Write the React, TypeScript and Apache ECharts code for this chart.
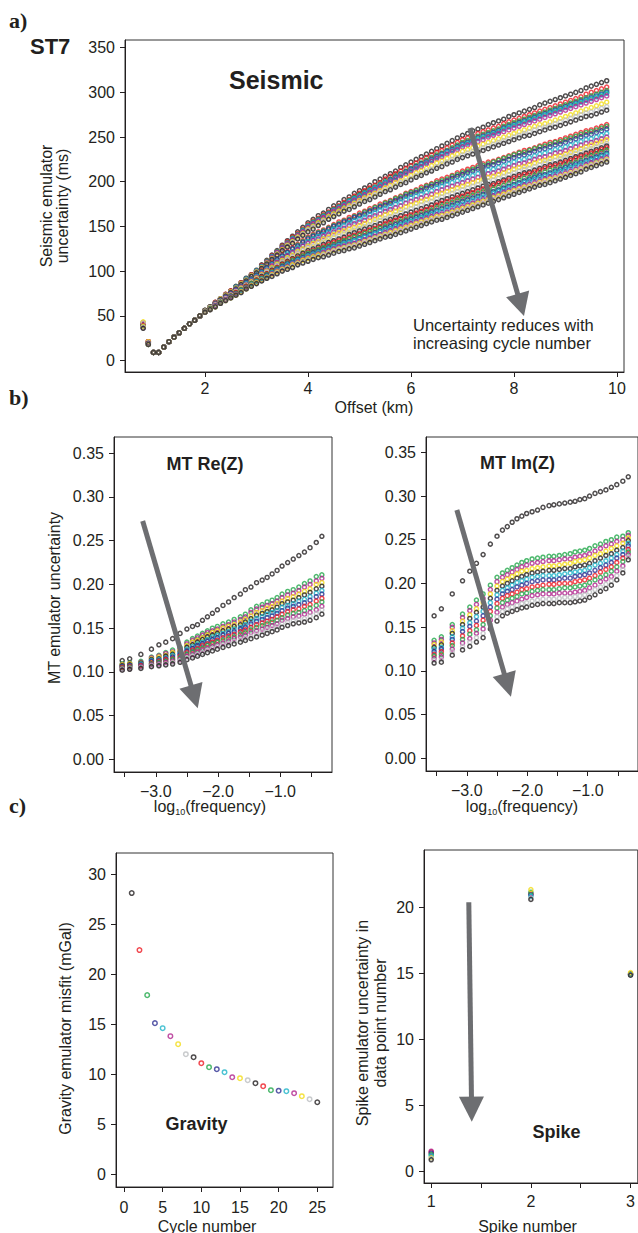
import React, { useEffect, useRef } from "react";
import * as echarts from "echarts";

// ---------- palette (R default palette order, printed tones) ----------
const PALETTE = ["#231f20", "#ed1c24", "#22a84a", "#2e3192", "#1fb4c8", "#b2268f", "#f2dc16", "#bcbec0"];
const INK = "#231f20";
const ARROW_GREY = "#6d6e71";
const FONT = "Liberation Sans, Arial, Helvetica, sans-serif";
const SERIF = "Liberation Serif, Times New Roman, serif";

// ---------- a) Seismic ----------
const OFFSET_KM = [0.8,0.9,1,1.1,1.2,1.3,1.4,1.5,1.6,1.7,1.8,1.9,2,2.1,2.2,2.3,2.4,2.5,2.6,2.7,2.8,2.9,3,3.1,3.2,3.3,3.4,3.5,3.6,3.7,3.8,3.9,4,4.1,4.2,4.3,4.4,4.5,4.6,4.7,4.8,4.9,5,5.1,5.2,5.3,5.4,5.5,5.6,5.7,5.8,5.9,6,6.1,6.2,6.3,6.4,6.5,6.6,6.7,6.8,6.9,7,7.1,7.2,7.3,7.4,7.5,7.6,7.7,7.8,7.9,8,8.1,8.2,8.3,8.4,8.5,8.6,8.7,8.8,8.9,9,9.1,9.2,9.3,9.4,9.5,9.6,9.7,9.8];

const SEIS_C1 = [40,20,9,9,15,21,26,31,36,41,45,50,56,60,65,69,74,78,83,87,92,96,101,107,112,118,123,129,134,139,144,149,154,158,162,165,169,173,176,180,183,187,190,193,196,200,203,206,209,212,216,219,222,225,228,231,234,237,240,243,246,249,252,254,257,259,261,264,266,268,270,273,275,277,279,281,283,286,288,290,292,294,296,298,300,302,305,307,309,311,313];
const SEIS_C2 = [41,21,9,9,15,21,26,31,36,41,45,50,56,60,65,69,74,78,82,87,91,96,100,106,111,117,122,128,133,138,142,147,152,156,159,163,166,170,173,177,180,184,187,190,193,196,199,203,206,209,212,215,218,221,224,227,230,233,235,238,241,244,247,249,251,254,256,258,260,262,265,267,269,271,273,275,277,279,281,283,285,287,289,291,293,295,298,300,302,304,306];
const SEIS_C3 = [42,21,9,9,15,21,26,31,36,41,45,50,56,60,64,69,73,77,82,86,91,95,100,105,111,116,122,127,132,137,141,146,151,155,158,162,165,169,172,175,179,182,185,188,191,194,197,200,203,206,209,212,215,218,221,224,227,230,232,235,238,241,244,246,248,251,253,255,257,259,262,264,266,268,270,272,274,276,278,280,282,284,286,288,290,292,294,296,298,300,302];
const SEIS_C4 = [41,21,9,9,15,21,26,31,36,41,45,50,56,60,64,69,73,77,82,86,91,95,100,105,110,116,121,126,131,136,140,145,150,154,157,161,164,168,171,174,178,181,184,187,190,193,196,199,202,205,208,211,214,217,220,222,225,228,231,234,236,239,242,244,246,249,251,253,255,257,260,262,264,266,268,270,272,274,276,278,280,282,284,286,288,290,292,294,296,298,300];
const SEIS_C5 = [40,20,9,9,15,21,26,31,36,41,45,50,56,60,64,69,73,77,82,86,91,95,100,105,110,116,121,126,131,136,140,145,150,154,157,161,164,168,171,174,178,181,184,187,190,193,196,199,201,204,207,210,213,216,219,221,224,227,230,233,235,238,241,243,245,248,250,252,254,256,259,261,263,265,267,269,271,273,275,277,279,281,283,285,287,289,291,293,295,297,299];
const SEIS_C6 = [42,21,9,9,15,21,26,31,36,41,45,50,56,60,64,69,73,77,81,86,90,95,99,104,110,115,121,126,131,135,140,144,149,153,156,160,163,167,170,173,176,179,182,185,188,191,194,197,200,203,206,209,212,215,217,220,223,226,228,231,234,236,239,241,243,245,247,250,252,254,256,258,260,262,264,266,268,270,272,274,276,278,280,282,284,286,288,290,292,294,296];
const SEIS_C7 = [43,21,9,9,15,21,26,31,36,41,45,50,56,60,64,69,73,77,81,86,90,95,99,104,109,114,119,124,129,133,138,142,147,150,154,157,161,164,167,170,173,176,179,182,185,187,190,193,196,199,201,204,207,210,212,215,218,221,223,226,229,231,234,236,238,240,242,244,246,248,250,252,254,256,258,260,262,264,265,267,269,271,273,275,277,279,281,283,285,287,289];
const SEIS_C8 = [41,20,9,9,15,21,26,31,36,41,45,50,56,60,64,68,72,76,80,85,89,94,98,103,108,113,118,123,128,132,137,141,146,149,152,156,159,162,165,168,171,174,177,180,182,185,188,191,193,196,199,201,204,207,209,212,214,217,220,222,225,227,230,232,234,236,238,240,242,244,246,248,250,252,254,256,258,260,261,263,265,267,269,271,273,275,277,278,280,282,284];
const SEIS_C9 = [39,20,9,9,15,21,26,31,36,41,45,50,56,60,64,68,72,76,80,85,89,94,98,103,108,113,118,123,127,131,136,140,144,147,151,154,158,161,164,167,169,172,175,178,180,183,186,189,191,194,197,199,202,205,207,210,212,215,217,220,222,225,227,229,231,233,235,237,239,241,243,245,247,249,251,252,254,256,258,260,261,263,265,267,269,271,273,274,276,278,280];
const SEIS_C10 = [41,21,9,9,15,21,26,31,36,41,45,50,55,59,63,67,71,75,79,83,87,91,95,100,104,109,113,118,122,126,130,134,138,141,144,146,149,152,155,157,160,162,165,167,170,172,175,177,179,182,184,187,189,191,194,196,198,201,203,205,207,210,212,214,216,218,220,222,223,225,227,229,231,233,235,236,238,240,242,244,245,247,249,251,253,255,257,258,260,262,264];
const SEIS_C11 = [40,20,9,9,15,21,26,31,36,41,45,50,55,59,63,67,71,75,79,83,87,91,95,99,104,108,113,117,121,125,129,133,137,140,143,145,148,151,153,156,158,161,163,166,168,171,173,176,178,181,183,186,188,190,192,195,197,199,201,203,206,208,210,212,214,216,218,220,222,224,226,228,230,232,233,235,237,239,240,242,244,245,247,249,251,253,255,256,258,260,262];
const SEIS_C12 = [40,20,9,9,15,21,26,31,36,41,45,50,55,59,63,67,71,75,79,83,87,91,95,99,104,108,113,117,121,125,128,132,136,139,142,144,147,150,152,155,157,160,162,164,167,169,172,174,176,179,181,184,186,188,190,193,195,197,199,201,204,206,208,210,212,214,216,218,219,221,223,225,227,229,230,232,234,236,237,239,241,242,244,246,248,250,252,253,255,257,259];
const SEIS_C13 = [39,20,9,9,15,21,26,31,36,41,45,50,55,59,63,66,70,74,78,82,86,90,94,98,102,107,111,115,119,122,126,129,133,136,139,141,144,147,149,151,154,156,158,160,163,165,168,170,172,175,177,180,182,184,186,188,190,193,195,197,199,201,203,205,207,209,211,213,214,216,218,220,222,224,225,227,229,231,232,234,236,237,239,241,243,245,247,248,250,252,254];
const SEIS_C14 = [41,21,9,9,15,21,26,31,36,41,45,50,55,59,63,66,70,74,78,82,85,89,93,97,101,106,110,114,117,121,124,128,131,134,136,139,141,144,146,148,151,153,155,157,160,162,164,167,169,171,173,176,178,180,182,184,186,189,191,193,195,197,199,201,203,205,207,209,210,212,214,216,218,220,221,223,225,227,228,230,232,233,235,237,239,241,243,244,246,248,250];
const SEIS_C15 = [43,21,9,9,15,21,26,31,36,41,45,50,55,59,62,66,69,73,77,81,84,88,92,96,100,104,108,112,115,118,122,125,128,131,133,136,138,141,143,145,147,149,151,153,156,158,160,163,165,167,169,172,174,176,178,180,182,185,187,189,191,193,195,197,199,201,203,205,206,208,210,212,214,216,217,219,221,223,224,226,228,229,231,233,235,237,239,241,243,245,247];
const SEIS_C16 = [42,20,9,9,15,21,26,31,36,41,45,50,55,59,62,66,69,73,77,80,84,87,91,95,99,102,106,110,113,116,120,123,126,128,131,133,136,138,140,142,144,146,148,150,152,155,157,159,161,163,166,168,170,172,174,176,178,181,183,185,187,189,191,193,195,197,199,201,202,204,206,208,210,212,214,215,217,219,221,223,224,226,228,230,232,234,236,237,239,241,243];
const SEIS_C17 = [38,19,9,9,15,21,26,31,36,41,45,50,54,58,61,65,68,72,76,79,83,86,90,94,97,101,104,108,111,114,117,120,123,125,127,130,132,134,136,138,141,143,145,147,149,151,153,156,158,160,162,164,166,168,170,172,174,177,179,181,183,185,187,189,191,193,195,197,198,200,202,204,206,208,210,211,213,215,217,219,220,222,224,226,228,230,232,234,236,238,240];
const SEIS_C18 = [39,19,9,9,15,21,26,31,36,41,45,50,54,58,61,65,68,72,76,79,83,86,90,93,97,100,104,107,110,113,115,118,121,123,125,128,130,132,134,136,138,140,142,144,146,148,150,153,155,157,159,161,163,165,167,169,171,174,176,178,180,182,184,186,188,190,192,194,196,198,200,202,204,206,208,209,211,213,215,217,218,220,222,224,226,228,230,232,234,236,238];
const SEIS_C19 = [38,18,9,9,15,21,26,31,36,41,45,50,54,58,61,65,68,72,75,79,82,86,89,92,96,99,103,106,109,112,114,117,120,122,124,126,128,130,132,134,136,138,140,142,144,146,148,150,152,154,156,158,160,162,164,166,168,171,173,175,177,179,181,183,185,187,189,191,192,194,196,198,200,202,204,205,207,209,211,213,214,216,218,220,222,224,227,229,231,233,235];
const SEIS_C20 = [37,19,9,9,15,21,26,31,36,41,45,50,54,57,61,64,68,71,74,78,81,85,88,91,95,98,102,105,108,110,113,115,118,120,122,124,126,128,130,132,133,135,137,139,141,143,145,148,150,152,154,156,158,160,162,164,166,168,170,172,174,176,178,180,182,184,186,188,189,191,193,195,197,199,201,203,205,207,208,210,212,214,216,218,220,222,224,226,228,230,232];
const SEIS_C21 = [38,18,9,9,15,21,26,31,36,41,45,50,54,57,61,64,68,71,74,78,81,85,88,91,94,98,101,104,107,109,112,114,117,119,121,123,125,127,129,131,132,134,136,138,140,142,144,146,148,150,152,154,156,158,160,162,164,166,167,169,171,173,175,177,179,181,183,185,187,189,191,193,195,197,199,201,203,205,206,208,210,212,214,216,218,220,222,224,226,228,230];
const SEIS_C22 = [37,18,9,9,15,21,26,31,36,41,45,50,54,57,61,64,68,71,74,77,81,84,87,90,93,97,100,103,105,108,110,113,115,117,119,121,123,125,127,128,130,131,133,135,137,139,141,143,145,147,149,151,153,155,157,159,161,163,164,166,168,170,172,174,176,178,180,182,184,186,188,190,192,194,196,197,199,201,203,205,206,208,210,212,214,216,219,221,223,225,227];
const SEIS_C23 = [38,18,9,9,15,21,26,31,36,41,45,50,54,57,60,64,67,70,73,77,80,84,87,90,93,96,99,102,104,107,109,112,114,116,118,119,121,123,125,126,128,129,131,133,135,137,139,141,143,145,147,149,151,153,155,157,159,161,162,164,166,168,170,172,174,176,178,180,182,184,186,188,190,192,194,195,197,199,201,203,204,206,208,210,212,214,217,219,221,223,225];
const SEIS_C24 = [37,18,9,9,15,21,26,31,36,41,45,50,54,57,60,64,67,70,73,76,80,83,86,89,92,95,98,101,103,105,108,110,112,114,116,118,120,122,124,125,127,128,130,132,134,136,138,140,141,143,145,147,149,151,153,155,157,159,160,162,164,166,168,170,172,174,176,178,180,182,184,186,188,190,192,194,196,198,199,201,203,205,207,209,211,213,216,218,220,222,224];
const SEIS_C25 = [36,18,9,9,15,21,26,31,36,41,45,50,54,57,60,64,67,70,73,76,80,83,86,89,92,94,97,100,102,104,107,109,111,113,115,116,118,120,122,123,125,126,128,130,132,134,136,138,139,141,143,145,147,149,151,153,155,157,158,160,162,164,166,168,170,172,174,176,178,180,182,184,186,188,190,192,194,196,197,199,201,203,205,207,209,211,214,216,218,220,222];

const SEISMIC_CYCLES = [SEIS_C1, SEIS_C2, SEIS_C3, SEIS_C4, SEIS_C5, SEIS_C6, SEIS_C7, SEIS_C8, SEIS_C9, SEIS_C10, SEIS_C11, SEIS_C12, SEIS_C13, SEIS_C14, SEIS_C15, SEIS_C16, SEIS_C17, SEIS_C18, SEIS_C19, SEIS_C20, SEIS_C21, SEIS_C22, SEIS_C23, SEIS_C24, SEIS_C25];

// ---------- b) MT ----------
const LOG_FREQ = [-3.54,-3.42,-3.24,-3.07,-2.95,-2.84,-2.73,-2.61,-2.5,-2.41,-2.33,-2.25,-2.17,-2.09,-2.01,-1.92,-1.83,-1.74,-1.64,-1.56,-1.47,-1.38,-1.29,-1.21,-1.13,-1.05,-0.97,-0.88,-0.79,-0.7,-0.61,-0.52,-0.42,-0.33];

const RE_CYCLE1 = [0.113,0.115,0.120,0.126,0.131,0.134,0.138,0.144,0.149,0.152,0.154,0.159,0.163,0.167,0.171,0.176,0.180,0.185,0.189,0.194,0.197,0.202,0.205,0.208,0.212,0.216,0.221,0.225,0.229,0.233,0.237,0.242,0.248,0.255];
const RE_BAND_10 = [0.109,0.110,0.112,0.117,0.119,0.122,0.125,0.128,0.134,0.138,0.141,0.144,0.147,0.150,0.152,0.155,0.157,0.160,0.163,0.166,0.171,0.175,0.177,0.180,0.182,0.185,0.189,0.192,0.194,0.197,0.201,0.204,0.209,0.211];
const RE_BAND_9 = [0.108,0.109,0.111,0.116,0.118,0.121,0.123,0.126,0.132,0.136,0.139,0.142,0.145,0.147,0.149,0.152,0.154,0.157,0.160,0.163,0.168,0.172,0.174,0.176,0.178,0.181,0.185,0.188,0.190,0.193,0.197,0.200,0.204,0.207];
const RE_BAND_8 = [0.108,0.109,0.110,0.115,0.117,0.119,0.122,0.125,0.130,0.134,0.136,0.139,0.142,0.145,0.147,0.150,0.152,0.154,0.157,0.160,0.164,0.168,0.170,0.173,0.175,0.178,0.181,0.184,0.186,0.189,0.192,0.195,0.200,0.202];
const RE_BAND_7 = [0.107,0.108,0.110,0.114,0.115,0.118,0.120,0.123,0.128,0.131,0.134,0.137,0.140,0.142,0.144,0.147,0.149,0.152,0.154,0.157,0.161,0.165,0.167,0.169,0.171,0.174,0.178,0.180,0.182,0.185,0.188,0.191,0.195,0.198];
const RE_BAND_6 = [0.106,0.107,0.109,0.113,0.114,0.116,0.119,0.121,0.126,0.129,0.132,0.134,0.137,0.140,0.142,0.144,0.146,0.149,0.151,0.154,0.158,0.161,0.163,0.166,0.168,0.170,0.174,0.176,0.178,0.181,0.183,0.186,0.190,0.193];
const RE_BAND_5 = [0.106,0.107,0.108,0.112,0.113,0.115,0.117,0.120,0.124,0.127,0.130,0.132,0.135,0.137,0.139,0.142,0.144,0.146,0.149,0.151,0.155,0.158,0.160,0.162,0.164,0.167,0.170,0.173,0.175,0.177,0.179,0.182,0.186,0.189];
const RE_BAND_4 = [0.105,0.106,0.107,0.110,0.112,0.114,0.115,0.118,0.122,0.125,0.127,0.130,0.132,0.134,0.136,0.139,0.141,0.143,0.146,0.148,0.151,0.154,0.156,0.158,0.160,0.163,0.166,0.169,0.171,0.172,0.175,0.177,0.181,0.184];
const RE_BAND_3 = [0.104,0.105,0.106,0.109,0.111,0.112,0.114,0.116,0.120,0.123,0.125,0.127,0.130,0.132,0.134,0.136,0.138,0.140,0.143,0.145,0.148,0.151,0.153,0.155,0.157,0.159,0.162,0.165,0.167,0.168,0.170,0.173,0.176,0.180];
const RE_BAND_2 = [0.103,0.104,0.106,0.108,0.109,0.111,0.112,0.114,0.118,0.120,0.123,0.125,0.127,0.129,0.131,0.133,0.135,0.138,0.140,0.142,0.145,0.147,0.149,0.151,0.153,0.155,0.159,0.161,0.163,0.164,0.166,0.168,0.171,0.175];
const RE_BAND_1 = [0.103,0.104,0.105,0.107,0.108,0.109,0.111,0.113,0.116,0.118,0.120,0.122,0.125,0.127,0.129,0.131,0.133,0.135,0.137,0.139,0.141,0.144,0.146,0.148,0.150,0.152,0.155,0.157,0.159,0.160,0.161,0.164,0.167,0.171];
const RE_BAND_0 = [0.102,0.103,0.104,0.106,0.107,0.108,0.109,0.111,0.114,0.116,0.118,0.120,0.122,0.124,0.126,0.128,0.130,0.132,0.134,0.136,0.138,0.140,0.142,0.144,0.146,0.148,0.151,0.153,0.155,0.156,0.157,0.159,0.162,0.166];

const IM_CYCLE1 = [0.163,0.171,0.188,0.203,0.214,0.223,0.233,0.245,0.254,0.261,0.265,0.270,0.274,0.277,0.280,0.282,0.284,0.287,0.289,0.290,0.291,0.292,0.293,0.294,0.296,0.297,0.300,0.303,0.305,0.307,0.310,0.313,0.317,0.322];
const IM_BAND_10 = [0.135,0.139,0.153,0.165,0.173,0.181,0.188,0.198,0.207,0.212,0.215,0.218,0.221,0.224,0.226,0.228,0.229,0.230,0.231,0.231,0.232,0.233,0.234,0.236,0.237,0.238,0.240,0.243,0.245,0.248,0.250,0.253,0.254,0.258];
const IM_BAND_9 = [0.132,0.136,0.150,0.161,0.169,0.176,0.183,0.193,0.202,0.207,0.210,0.213,0.216,0.219,0.221,0.223,0.224,0.225,0.226,0.226,0.227,0.228,0.228,0.230,0.231,0.232,0.234,0.237,0.240,0.243,0.245,0.248,0.250,0.255];
const IM_BAND_8 = [0.130,0.133,0.146,0.157,0.164,0.171,0.178,0.188,0.197,0.202,0.205,0.208,0.211,0.214,0.215,0.217,0.218,0.219,0.220,0.220,0.221,0.222,0.223,0.225,0.226,0.227,0.229,0.232,0.234,0.237,0.240,0.243,0.246,0.252];
const IM_BAND_7 = [0.127,0.130,0.143,0.153,0.160,0.167,0.173,0.183,0.192,0.197,0.200,0.203,0.206,0.208,0.210,0.212,0.213,0.214,0.215,0.215,0.216,0.217,0.217,0.219,0.220,0.221,0.223,0.226,0.229,0.232,0.234,0.238,0.241,0.249];
const IM_BAND_6 = [0.125,0.127,0.139,0.149,0.155,0.162,0.168,0.178,0.187,0.192,0.195,0.198,0.201,0.203,0.205,0.207,0.208,0.209,0.209,0.209,0.210,0.211,0.212,0.213,0.214,0.215,0.218,0.221,0.223,0.226,0.229,0.233,0.237,0.246];
const IM_BAND_5 = [0.122,0.125,0.136,0.145,0.151,0.157,0.163,0.173,0.182,0.188,0.191,0.193,0.196,0.198,0.200,0.202,0.203,0.204,0.204,0.204,0.205,0.206,0.206,0.208,0.209,0.210,0.212,0.215,0.218,0.221,0.224,0.229,0.233,0.243];
const IM_BAND_4 = [0.119,0.122,0.132,0.140,0.146,0.152,0.158,0.168,0.177,0.183,0.186,0.188,0.190,0.193,0.194,0.196,0.197,0.198,0.199,0.199,0.200,0.200,0.200,0.202,0.203,0.204,0.206,0.209,0.213,0.216,0.219,0.224,0.229,0.239];
const IM_BAND_3 = [0.117,0.119,0.129,0.136,0.142,0.147,0.153,0.163,0.172,0.178,0.181,0.183,0.185,0.188,0.189,0.191,0.192,0.193,0.193,0.193,0.194,0.195,0.195,0.196,0.197,0.198,0.201,0.204,0.207,0.210,0.214,0.219,0.225,0.236];
const IM_BAND_2 = [0.114,0.116,0.125,0.132,0.137,0.143,0.148,0.158,0.167,0.173,0.176,0.178,0.180,0.182,0.184,0.186,0.187,0.188,0.188,0.188,0.189,0.189,0.189,0.190,0.191,0.192,0.195,0.198,0.202,0.205,0.208,0.214,0.220,0.233];
const IM_BAND_1 = [0.112,0.113,0.122,0.128,0.133,0.138,0.143,0.153,0.162,0.168,0.171,0.173,0.175,0.177,0.178,0.180,0.181,0.182,0.182,0.182,0.183,0.184,0.184,0.185,0.186,0.187,0.190,0.193,0.196,0.199,0.203,0.209,0.216,0.230];
const IM_BAND_0 = [0.109,0.110,0.118,0.124,0.128,0.133,0.138,0.148,0.157,0.163,0.166,0.168,0.170,0.172,0.173,0.175,0.176,0.177,0.177,0.177,0.178,0.178,0.178,0.179,0.180,0.181,0.184,0.187,0.191,0.194,0.198,0.204,0.212,0.227];

const RE_BANDS = [RE_BAND_10, RE_BAND_9, RE_BAND_8, RE_BAND_7, RE_BAND_6, RE_BAND_5, RE_BAND_4, RE_BAND_3, RE_BAND_2, RE_BAND_1, RE_BAND_0];
const IM_BANDS = [IM_BAND_10, IM_BAND_9, IM_BAND_8, IM_BAND_7, IM_BAND_6, IM_BAND_5, IM_BAND_4, IM_BAND_3, IM_BAND_2, IM_BAND_1, IM_BAND_0];
// colour of each band level, top to bottom
const BAND_COLORS = ["#22a84a", "#b2268f", "#f2dc16", "#231f20", "#1fb4c8", "#2e3192", "#ed1c24", "#22a84a", "#b2268f", "#bcbec0", "#231f20"];

// ---------- c) Gravity ----------
const CYCLE_NUMBER = [1,2,3,4,5,6,7,8,9,10,11,12,13,14,15,16,17,18,19,20,21,22,23,24,25];
const GRAVITY_MISFIT = [28.1,22.4,17.9,15.1,14.6,13.8,13.0,12.0,11.7,11.1,10.7,10.5,10.2,9.7,9.6,9.4,9.1,8.8,8.4,8.35,8.3,8.1,7.8,7.5,7.2];

// ---------- c) Spike ----------
const SPIKE_NUMBER = [1, 2, 3];
const SPIKE_RED = [1.45, 21.0, 14.95];
const SPIKE_MAGENTA = [1.5, 21.05, 14.95];
const SPIKE_BLUE = [1.35, 20.95, 14.9];
const SPIKE_GREEN = [1.25, 21.15, 14.95];
const SPIKE_CYAN = [1.15, 20.85, 14.9];
const SPIKE_YELLOW = [1.0, 21.35, 15.05];
const SPIKE_GREY = [0.95, 20.7, 14.85];
const SPIKE_BLACK = [0.85, 20.6, 14.85];
const SPIKE_SERIES = [
  { values: SPIKE_RED, color: "#ed1c24" },
  { values: SPIKE_MAGENTA, color: "#b2268f" },
  { values: SPIKE_BLUE, color: "#2e3192" },
  { values: SPIKE_GREEN, color: "#22a84a" },
  { values: SPIKE_CYAN, color: "#1fb4c8" },
  { values: SPIKE_YELLOW, color: "#f2dc16" },
  { values: SPIKE_GREY, color: "#bcbec0" },
  { values: SPIKE_BLACK, color: "#231f20" },
];

// ---------- ticks ----------
const SEIS_X_TICKS = [2, 4, 6, 8, 10];
const SEIS_Y_TICKS = [0, 50, 100, 150, 200, 250, 300, 350];
const MT_X_TICKS = [-3.5, -3, -2.5, -2, -1.5, -1, -0.5];
const MT_X_LABELS = [-3, -2, -1];
const MT_Y_TICKS = [0, 0.05, 0.1, 0.15, 0.2, 0.25, 0.3, 0.35];
const GRAV_X_TICKS = [0, 5, 10, 15, 20, 25];
const GRAV_Y_TICKS = [0, 5, 10, 15, 20, 25, 30];
const SPIKE_X_TICKS = [1, 1.5, 2, 2.5, 3];
const SPIKE_X_LABELS = [1, 2, 3];
const SPIKE_Y_TICKS = [0, 5, 10, 15, 20];

// arrows (data coordinates of tail and tip)
const ARROWS = [
  { grid: 0, from: [7.146, 260.2], to: [8.194, 49.8], headLen: 23, headWidth: 24 },
  { grid: 1, from: [-3.211, 0.2726], to: [-2.326, 0.0583], headLen: 24, headWidth: 24 },
  { grid: 2, from: [-3.164, 0.284], to: [-2.27, 0.0705], headLen: 24, headWidth: 24 },
  { grid: 4, from: [1.377, 20.38], to: [1.407, 3.74], headLen: 25, headWidth: 25 },
];

function ring(color: string) {
  return { color: "rgba(0,0,0,0)", borderColor: color, borderWidth: 1.5 };
}

function axis(gridIndex: number, min: number, max: number, ticks: number[], labels: number[], fmt: (v: number) => string, margin: number) {
  return {
    type: "value",
    gridIndex,
    min,
    max,
    axisLine: { show: true, onZero: false, lineStyle: { color: INK, width: 1 } },
    axisTick: { show: true, inside: false, length: 5, customValues: ticks, lineStyle: { color: INK, width: 1 } },
    axisLabel: { show: true, customValues: labels, formatter: fmt, margin, fontSize: 16, color: INK, fontFamily: FONT },
    splitLine: { show: false },
    axisPointer: { show: false },
  };
}

const intFmt = (v: number) => String(Math.round(v));
const mtYFmt = (v: number) => v.toFixed(2);
const mtXFmt = (v: number) => (v < 0 ? "\u2212" : "") + Math.abs(v).toFixed(1);

function scatter(g: number, xs: number[], ys: number[], color: string, name: string) {
  return {
    type: "scatter",
    name,
    xAxisIndex: g,
    yAxisIndex: g,
    symbol: "circle",
    symbolSize: 4,
    itemStyle: ring(color),
    emphasis: { disabled: true },
    silent: true,
    data: xs.map((x, i) => [x, ys[i]]),
  };
}

function buildOption() {
  const grid = (left: number, top: number, width: number, height: number) => ({
    left, top, width, height, show: true, borderColor: "#333", borderWidth: 1, backgroundColor: "rgba(0,0,0,0)", containLabel: false,
  });
  const series: any[] = [];
  SEISMIC_CYCLES.forEach((ys, k) => series.push(scatter(0, OFFSET_KM, ys, PALETTE[k % 8], "Seismic cycle " + (k + 1))));
  series.push(scatter(1, LOG_FREQ, RE_CYCLE1, PALETTE[0], "Re(Z) cycle 1"));
  RE_BANDS.forEach((ys, k) => series.push(scatter(1, LOG_FREQ, ys, BAND_COLORS[k], "Re(Z) band " + k)));
  series.push(scatter(2, LOG_FREQ, IM_CYCLE1, PALETTE[0], "Im(Z) cycle 1"));
  IM_BANDS.forEach((ys, k) => series.push(scatter(2, LOG_FREQ, ys, BAND_COLORS[k], "Im(Z) band " + k)));
  series.push({
    type: "scatter", name: "Gravity", xAxisIndex: 3, yAxisIndex: 3, symbol: "circle", symbolSize: 4.5, silent: true,
    emphasis: { disabled: true },
    data: CYCLE_NUMBER.map((c, i) => ({ value: [c, GRAVITY_MISFIT[i]], itemStyle: ring(PALETTE[(c - 1) % 8]) })),
  });
  SPIKE_SERIES.forEach((s, k) => series.push(scatter(4, SPIKE_NUMBER, s.values, s.color, "Spike " + k)));

  return {
    animation: false,
    backgroundColor: "#ffffff",
    textStyle: { fontFamily: FONT },
    grid: [
      grid(125, 40, 499, 332),
      grid(114, 437, 218, 335),
      grid(426, 437, 218, 334),
      grid(116, 853, 217, 334),
      grid(424, 850, 216, 333),
    ],
    xAxis: [
      axis(0, 0.447, 10.136, SEIS_X_TICKS, SEIS_X_TICKS, intFmt, 8),
      axis(1, -3.672, -0.167, MT_X_TICKS, MT_X_LABELS, mtXFmt, 11),
      axis(2, -3.674, -0.169, MT_X_TICKS, MT_X_LABELS, mtXFmt, 11),
      axis(3, -1.034, 27.03, GRAV_X_TICKS, GRAV_X_TICKS, intFmt, 12),
      axis(4, 0.9275, 3.0725, SPIKE_X_TICKS, SPIKE_X_LABELS, intFmt, 10),
    ],
    yAxis: [
      axis(0, -12.9, 358.6, SEIS_Y_TICKS, SEIS_Y_TICKS, intFmt, 10),
      axis(1, -0.0145, 0.3686, MT_Y_TICKS, MT_Y_TICKS, mtYFmt, 10),
      axis(2, -0.0145, 0.3675, MT_Y_TICKS, MT_Y_TICKS, mtYFmt, 10),
      axis(3, -1.27, 32.1, GRAV_Y_TICKS, GRAV_Y_TICKS, intFmt, 10),
      axis(4, -0.91, 24.35, SPIKE_Y_TICKS, SPIKE_Y_TICKS, intFmt, 10),
    ],
    series,
  };
}

function text(x: number, y: number, str: string, o: any = {}) {
  return {
    type: "text",
    x,
    y,
    rotation: o.rotation || 0,
    silent: true,
    z: 60,
    style: {
      text: str,
      fill: INK,
      fontSize: o.size || 16,
      fontFamily: o.family || FONT,
      fontWeight: o.weight || "normal",
      align: o.align || "center",
      verticalAlign: "middle",
      lineHeight: o.lineHeight || Math.round((o.size || 16) * 1.1),
    },
  };
}

function logFreqLabel(x: number, y: number) {
  return {
    type: "text",
    x,
    y,
    silent: true,
    z: 60,
    style: {
      text: "{m|log}{s|10}{m|(frequency)}",
      align: "center",
      verticalAlign: "middle",
      rich: {
        m: { fontSize: 16, fontFamily: FONT, fill: INK, lineHeight: 20, verticalAlign: "middle" },
        s: { fontSize: 9, fontFamily: FONT, fill: INK, lineHeight: 10, verticalAlign: "bottom" },
      },
    },
  };
}

function texts() {
  const R = Math.PI / 2;
  return [
    text(9, 20, "a)", { family: SERIF, weight: "bold", size: 22, align: "left" }),
    text(9, 397, "b)", { family: SERIF, weight: "bold", size: 22, align: "left" }),
    text(9, 805, "c)", { family: SERIF, weight: "bold", size: 22, align: "left" }),
    text(30, 46, "ST7", { weight: "bold", size: 22, align: "left" }),
    text(229, 80, "Seismic", { weight: "bold", size: 25, align: "left" }),
    text(413, 325, "Uncertainty reduces with", { size: 16.5, align: "left" }),
    text(413, 343, "increasing cycle number", { size: 16.5, align: "left" }),
    text(54.5, 206, "Seismic emulator\nuncertainty (ms)", { rotation: R, lineHeight: 16.5 }),
    text(374, 407, "Offset (km)"),
    text(166.5, 464, "MT Re(Z)", { weight: "bold", size: 18, align: "left" }),
    text(480, 463, "MT Im(Z)", { weight: "bold", size: 18, align: "left" }),
    text(54, 598, "MT emulator uncertainty", { rotation: R }),
    logFreqLabel(210, 806),
    logFreqLabel(522, 806),
    text(165.5, 1124, "Gravity", { weight: "bold", size: 18, align: "left" }),
    text(532.5, 1132, "Spike", { weight: "bold", size: 18, align: "left" }),
    text(65, 1028.5, "Gravity emulator misfit (mGal)", { rotation: R }),
    text(371, 1023, "Spike emulator uncertainty in\ndata point number", { rotation: R, lineHeight: 18 }),
    text(207, 1226, "Cycle number"),
    text(527.5, 1226, "Spike number"),
  ];
}

function arrowGraphics(chart: any) {
  const out: any[] = [];
  ARROWS.forEach((a) => {
    const s = chart.convertToPixel({ gridIndex: a.grid }, a.from);
    const t = chart.convertToPixel({ gridIndex: a.grid }, a.to);
    const dx = t[0] - s[0];
    const dy = t[1] - s[1];
    const len = Math.hypot(dx, dy);
    const ux = dx / len;
    const uy = dy / len;
    const bx = t[0] - ux * a.headLen;
    const by = t[1] - uy * a.headLen;
    const px = -uy;
    const py = ux;
    const hw = a.headWidth / 2;
    out.push({
      type: "line", silent: true, z: 50,
      shape: { x1: s[0], y1: s[1], x2: bx + ux, y2: by + uy },
      style: { stroke: ARROW_GREY, lineWidth: 5 },
    });
    out.push({
      type: "polygon", silent: true, z: 50,
      shape: { points: [[t[0], t[1]], [bx + px * hw, by + py * hw], [bx - px * hw, by - py * hw]] },
      style: { fill: ARROW_GREY },
    });
  });
  return out;
}

export default function App() {
  const ref = useRef<HTMLDivElement>(null);
  useEffect(() => {
    document.body.style.margin = "0";
    document.body.style.overflow = "hidden";
    const chart = echarts.init(ref.current as HTMLDivElement, undefined, { renderer: "svg", width: 638, height: 1233 });
    chart.setOption(buildOption() as any);
    chart.setOption({ graphic: [...texts(), ...arrowGraphics(chart)] } as any);
    return () => chart.dispose();
  }, []);
  return <div ref={ref} style={{ width: 638, height: 1233, overflow: "hidden" }} />;
}
